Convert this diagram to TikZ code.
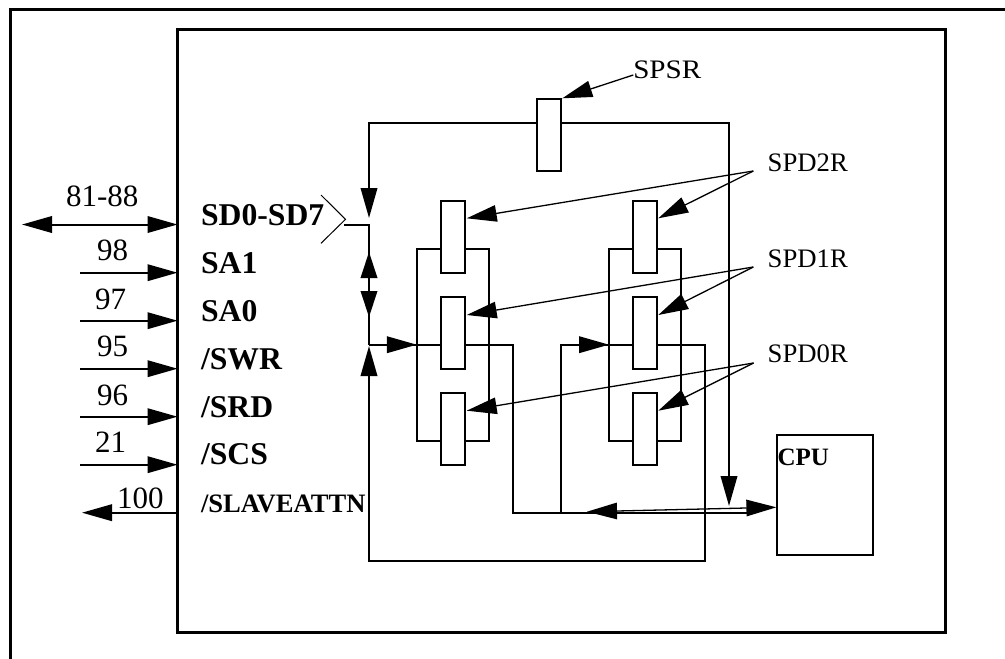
\documentclass[tikz,border=0pt]{standalone}
\usepackage{fontspec}
\setmainfont{Liberation Serif}
\newfontfamily\wideserif[FakeStretch=1.09]{Liberation Serif}
\usetikzlibrary{arrows.meta,backgrounds}
\tikzset{
  x=1pt,y=-1pt,
  frameline/.style={line width=3pt},
  wire/.style={line width=2pt,line join=miter},
  leader/.style={line width=1.3pt},
  headend/.style={-{Triangle[length=30pt,width=16.5pt]}},
  headshort/.style={-{Triangle[length=26pt,width=16.5pt]}},
  headboth/.style={{Triangle[length=30pt,width=16.5pt]}-{Triangle[length=30pt,width=16.5pt]}},
  register/.style={draw,line width=2pt,fill=white,minimum width=24.3pt,minimum height=72pt,inner sep=0pt,outer sep=0pt},
  chipbox/.style={draw,line width=3pt,minimum width=768pt,minimum height=603pt,inner sep=0pt,outer sep=0pt},
  cpubox/.style={draw,line width=2pt,minimum width=96pt,minimum height=120pt,inner sep=0pt,outer sep=0pt},
  txt/.style={anchor=base west,inner sep=0pt,outer sep=0pt},
  pinnum/.style={txt,font=\fontsize{31}{31}\selectfont},
  pinname/.style={txt,font=\fontsize{31.7}{32}\selectfont\bfseries},
  smallbold/.style={txt,font=\fontsize{25}{25}\selectfont\bfseries},
  reglabel/.style={txt,font=\fontsize{26.7}{27}\selectfont},
}
\begin{document}
\begin{tikzpicture}
\useasboundingbox (0,0) rectangle (1005,659);
% outer frame
\draw[frameline] (10.5,659) -- (10.5,9.5) -- (1005,9.5);
% chip
\node[chipbox] (chip) at (561.5,331) {};
% registers
\node[register] (spsr) at (549,135) {};
\node[register] (l2) at (452.8,237) {};
\node[register] (l1) at (452.8,333) {};
\node[register] (l0) at (452.8,429) {};
\node[register] (r2) at (645.2,237) {};
\node[register] (r1) at (645.2,333) {};
\node[register] (r0) at (645.2,429) {};
\node[cpubox] (cpu) at (825,495) {};
% labels
\node[pinname] (tsd) at (201,225) {SD0-SD7};
\node[pinname] (tsa1) at (201,273) {SA1};
\node[pinname] (tsa0) at (201,321) {SA0};
\node[pinname] (tswr) at (201,369) {/SWR};
\node[pinname] (tsrd) at (201,417) {/SRD};
\node[pinname] (tscs) at (201,464.5) {/SCS};
\node[smallbold,font=\fontsize{26.6}{27}\selectfont\bfseries] (tsla) at (201,512) {/SLAVEATTN};
\node[smallbold] (tcpu) at (777.5,465) {CPU};
\node[pinnum] (n81) at (66,206.7) {81-88};
\node[pinnum] (n98) at (97,260.7) {98};
\node[pinnum] (n97) at (95,309) {97};
\node[pinnum] (n95) at (97,356.7) {95};
\node[pinnum] (n96) at (97,405) {96};
\node[pinnum] (n21) at (95,452.5) {21};
\node[pinnum] (n100) at (117,508) {100};
\node[txt,font=\wideserif\fontsize{26.7}{27}\selectfont] (tspsr) at (633.3,78.3) {SPSR};
\node[reglabel] (t2) at (767.7,171) {SPD2R};
\node[reglabel] (t1) at (767.7,267) {SPD1R};
\node[reglabel] (t0) at (767.7,362.7) {SPD0R};
% free ends
\coordinate (e81) at (22,224.5);
\coordinate (e98) at (80,272.7);
\coordinate (e97) at (80,320.7);
\coordinate (e95) at (80,368.7);
\coordinate (e96) at (80,416.7);
\coordinate (e21) at (80,464.7);
\coordinate (e100) at (82,512.7);
\coordinate (chevA) at (321,195);
\coordinate (chevB) at (345.5,219.3);
\coordinate (chevC) at (321,243.3);
\coordinate (sdend) at (344,224.5);
\coordinate (bus) at (369,224.5);
\coordinate (busUp) at (369,252);
\coordinate (busDown) at (369,317);
\coordinate (busB) at (369,344.7);
\coordinate (topL) at (369,122.7);
\coordinate (topR) at (729,122.7);
\coordinate (topTip) at (729,506);
\coordinate (topTipL) at (369,218);
\coordinate (lmid) at (416.8,344.7);
\coordinate (rmid) at (609,344.7);
\coordinate (lout) at (513.2,344.7);
\coordinate (lbot) at (513.2,512.7);
\coordinate (rin) at (561.4,344.7);
\coordinate (rbot) at (561.4,512.7);
\coordinate (busEnd) at (747,512.7);
\coordinate (routR) at (705,344.7);
\coordinate (botR) at (705,560.7);
\coordinate (botL) at (369,560.7);
\coordinate (upTip) at (369,346);
\coordinate (cpuL) at (587,511.7);
\coordinate (cpuR) at (776.4,507.3);
\coordinate (s0) at (633.3,75);
\coordinate (s2) at (753.3,171);
\coordinate (s1) at (753.3,267);
\coordinate (s00) at (753.6,363);
\coordinate (tipS) at (562.3,98.3);
\coordinate (tl2) at (466.7,218.3);
\coordinate (tr2) at (658.3,218.3);
\coordinate (tl1) at (466.7,315);
\coordinate (tr1) at (658.3,315);
\coordinate (tl0) at (466.7,410.7);
\coordinate (tr0) at (658.3,410.7);
\coordinate (lpA) at (416.8,249);
\coordinate (lpB) at (489,440.7);
\coordinate (rpA) at (609,249);
\coordinate (rpB) at (681,440.7);
% connectors under the registers
\begin{scope}[on background layer]
\draw[wire] (lpA) rectangle (lpB);
\draw[wire] (rpA) rectangle (rpB);
\draw[wire,headend] (topR) -- (topL) -- (topTipL);
\draw[wire,headend] (topL) -- (topR) -- (topTip);
\draw[wire] (busB) -- (lout) -- (lbot) -- (busEnd);
\draw[wire,headend] (rbot) -- (rin) -- (routR) -- (botR) -- (botL) -- (upTip);
\end{scope}
% pins
\draw[wire,headboth] (e81) -- (e81 -| chip.west);
\draw[wire,headend] (e98) -- (e98 -| chip.west);
\draw[wire,headend] (e97) -- (e97 -| chip.west);
\draw[wire,headend] (e95) -- (e95 -| chip.west);
\draw[wire,headend] (e96) -- (e96 -| chip.west);
\draw[wire,headend] (e21) -- (e21 -| chip.west);
\draw[wire,headend] (e100 -| chip.west) -- (e100);
% SD bus
\draw[line width=1pt] (chevA) -- (chevB) -- (chevC);
\draw[wire,headshort] (sdend) -- (bus) -- (busDown);
\draw[wire,headshort] (busB) -- (busUp);
\draw[wire,headend] (busB) -- (lmid);
\draw[wire,headend] (rin) -- (rmid);
\draw[leader,headboth] (cpuL) -- (cpuR);
% leaders
\draw[leader,headend] (s0) -- (tipS);
\draw[leader,headend] (s2) -- (tl2);
\draw[leader,headend] (s2) -- (tr2);
\draw[leader,headend] (s1) -- (tl1);
\draw[leader,headend] (s1) -- (tr1);
\draw[leader,headend] (s00) -- (tl0);
\draw[leader,headend] (s00) -- (tr0);
\end{tikzpicture}
\end{document}
